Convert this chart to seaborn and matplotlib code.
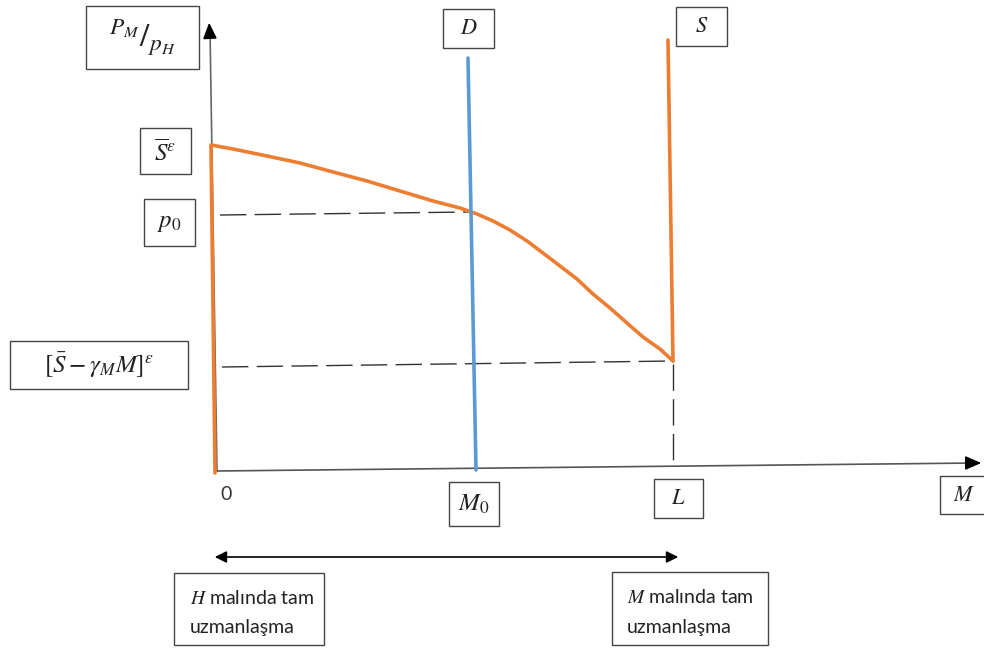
import matplotlib
matplotlib.use("Agg")
import matplotlib.pyplot as plt
from matplotlib.patches import FancyArrowPatch
import seaborn as sns

sns.set_theme(style="white")
plt.rcParams['font.family'] = ['Lato', 'DejaVu Sans']
plt.rcParams['mathtext.fontset'] = 'stix'

# Diagram coordinates (canvas units, y grows downward)
supply_left_x = [215, 211]
supply_left_y = [473, 146]
supply_curve_x = [211, 233, 267, 300, 333, 367, 400, 433, 460, 477, 493, 510, 527,
                  543, 560, 577, 593, 610, 627, 643, 660, 673]
supply_curve_y = [145, 149, 156, 163, 172, 181, 191, 201, 208, 214, 221, 230, 241,
                  253, 266, 279, 294, 308, 323, 337, 349, 361]
supply_right_x = [673, 668]
supply_right_y = [361, 40]
demand_x = [476, 468]
demand_y = [470, 58]

ORANGE = "#ED7D31"
BLUE = "#5B9BD5"

fig = plt.figure(figsize=(9.84, 6.48), dpi=100)
ax = fig.add_axes([0, 0, 1, 1])
ax.set_xlim(0, 984)
ax.set_ylim(648, 0)
ax.axis("off")

# axes
ax.plot([217, 210], [471, 30], color="#666666", lw=1.2, zorder=1)
ax.annotate("", xy=(209, 20), xytext=(210, 40),
            arrowprops=dict(arrowstyle="-|>,head_length=0.8,head_width=0.35", color="black", lw=1.2))
ax.plot([217, 975], [471, 463], color="#555555", lw=1.2, zorder=1)
ax.annotate("", xy=(984, 463), xytext=(965, 463),
            arrowprops=dict(arrowstyle="-|>,head_length=0.8,head_width=0.35", color="black", lw=1.2))

# dashed guides
dash = dict(color="#333333", lw=1.0, dashes=(19, 6))
ax.plot([220, 470], [215, 212], **dash)
ax.plot([222, 673], [367, 361], **dash)
ax.plot([673, 673], [364, 462], **dash)

# curves
line_kw = dict(sort=False, estimator=None, lw=2.6, ax=ax)
for xs, ys, c in [(supply_left_x, supply_left_y, ORANGE),
                  (supply_curve_x, supply_curve_y, ORANGE),
                  (supply_right_x, supply_right_y, ORANGE),
                  (demand_x, demand_y, BLUE)]:
    sns.lineplot(x=xs, y=ys, color=c, **line_kw)
for ln in ax.lines:
    ln.set_solid_joinstyle("round")

def box(x0, y0, x1, y1, text, size=15, tx=None, ty=None):
    ax.add_patch(plt.Rectangle((x0, y0), x1 - x0, y1 - y0, fill=False,
                               edgecolor="#444444", lw=1.0, zorder=3))
    if text:
        if tx is None:
            tx = (x0 + x1) / 2
        if ty is None:
            ty = (y0 + y1) / 2
        ax.text(tx, ty, text, ha="center", va="center", fontsize=size, color="#222222")

box(86, 6, 199, 69, r"$^{P_M}/_{p_H}$", size=24)
box(140, 128, 191, 174, r"$\overline{S}^{\epsilon}$", size=18)
box(144, 199, 195, 246, r"$p_0$", size=18)
box(10, 341, 188, 389, r"$[\bar{S}-\gamma_M M]^{\epsilon}$", size=18)
box(443, 9, 494, 48, r"$D$", size=16)
box(676, 7, 727, 46, r"$S$", size=16)
box(449, 482, 499, 526, r"$M_0$", size=18)
box(654, 479, 703, 518, r"$L$", size=16)
box(940, 476, 995, 514, r"$M$", size=16, tx=964)
ax.text(226, 495, "0", ha="center", va="center", fontsize=14, color="#333333")

box(174, 573, 324, 645, "")
ax.text(190, 598, r"$H$ malında tam", ha="left", va="center", fontsize=14, color="#222222")
ax.text(190, 628, "uzmanlaşma", ha="left", va="center", fontsize=14, color="#222222")
box(612, 572, 768, 645, "")
ax.text(627, 597, r"$M$ malında tam", ha="left", va="center", fontsize=14, color="#222222")
ax.text(627, 627, "uzmanlaşma", ha="left", va="center", fontsize=14, color="#222222")

ax.add_patch(FancyArrowPatch((212, 557), (681, 557),
                             arrowstyle="<|-|>,head_length=7,head_width=3.5",
                             color="black", lw=1.2, mutation_scale=1))

fig.savefig("out.png", dpi=100)
